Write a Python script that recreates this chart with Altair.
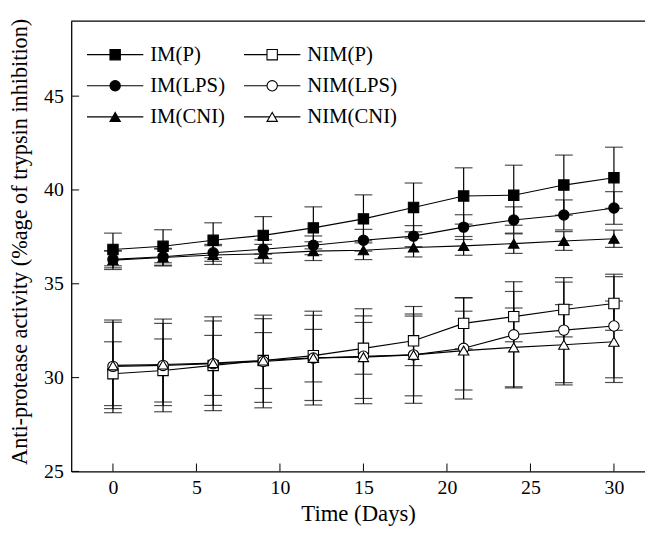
import altair as alt
import pandas as pd

days = [0, 3, 6, 9, 12, 15, 18, 21, 24, 27, 30]
series_names = ["IM(P)", "IM(LPS)", "IM(CNI)", "NIM(P)", "NIM(LPS)", "NIM(CNI)"]
series_shapes = ["square", "circle", "triangle-up", "square", "circle", "triangle-up"]
series_fills = ["black", "black", "black", "white", "white", "white"]

im_p = [36.83, 37.0, 37.32, 37.58, 37.98, 38.46, 39.07, 39.68, 39.72, 40.26, 40.65]
im_lps = [36.3, 36.44, 36.65, 36.84, 37.05, 37.32, 37.54, 38.02, 38.4, 38.67, 39.04]
im_cni = [36.26, 36.4, 36.53, 36.6, 36.74, 36.79, 36.93, 37.02, 37.14, 37.28, 37.4]
nim_p = [30.21, 30.38, 30.65, 30.91, 31.17, 31.56, 31.96, 32.89, 33.25, 33.63, 33.95]
nim_lps = [30.6, 30.65, 30.74, 30.86, 31.04, 31.14, 31.21, 31.56, 32.28, 32.53, 32.75]
nim_cni = [30.65, 30.7, 30.77, 30.91, 31.05, 31.09, 31.21, 31.44, 31.61, 31.75, 31.91]

err_im_p = [0.87, 0.88, 0.93, 1.0, 1.12, 1.28, 1.3, 1.5, 1.6, 1.6, 1.63]
err_im_lps = [0.45, 0.45, 0.45, 0.5, 0.5, 0.58, 0.56, 0.66, 0.7, 0.8, 0.87]
err_im_cni = [0.5, 0.45, 0.5, 0.5, 0.5, 0.5, 0.5, 0.5, 0.52, 0.5, 0.46]
err_nim_p = [1.7, 1.68, 1.6, 1.49, 1.4, 1.38, 1.32, 1.36, 1.34, 1.46, 1.43]
err_nim_lps = [2.47, 2.47, 2.5, 2.47, 2.5, 2.53, 2.58, 2.7, 2.83, 2.8, 2.76]
err_nim_cni = [2.3, 2.19, 2.25, 2.23, 2.27, 2.2, 2.18, 2.1, 2.1, 2.14, 2.17]

x_ticks = [0, 5, 10, 15, 20, 25, 30]
y_ticks = [25, 30, 35, 40, 45]

values = [im_p, im_lps, im_cni, nim_p, nim_lps, nim_cni]
errors = [err_im_p, err_im_lps, err_im_cni, err_nim_p, err_nim_lps, err_nim_cni]

rows = []
for name, vals, errs in zip(series_names, values, errors):
    for d, v, e in zip(days, vals, errs):
        rows.append({"series": name, "day": d, "value": v, "lo": v - e, "hi": v + e})
df = pd.DataFrame(rows)

W, H = 581, 456
FONT = "Liberation Serif"

xs = alt.Scale(domain=[-2.5, 31.86], nice=False, zero=False)
ys = alt.Scale(domain=[25, 49], nice=False, zero=False)
shape_scale = alt.Scale(domain=series_names, range=series_shapes)
fill_scale = alt.Scale(domain=series_names, range=series_fills)

base = alt.Chart(df)

lines = base.mark_line(color="black", strokeWidth=1.1).encode(
    x=alt.X("day:Q", scale=xs,
            axis=alt.Axis(values=x_ticks, title="Time (Days)", ticks=False, tickSize=0,
                          labelPadding=6, titlePadding=6)),
    y=alt.Y("value:Q", scale=ys,
            axis=alt.Axis(values=y_ticks, title="Anti-protease activity (%age of trypsin inhibition)",
                          ticks=False, tickSize=0, labelPadding=8,
                          titleX=-52, titleY=223, titleAngle=-90, titleAlign="center",
                          titleBaseline="middle", titleFontSize=22.5)),
    detail="series:N",
)

bars = base.mark_rule(color="black", strokeWidth=1.2).encode(
    x="day:Q", y="lo:Q", y2="hi:Q"
)
caps_hi = base.mark_tick(color="black", orient="horizontal", size=18, thickness=1.2).encode(
    x="day:Q", y="hi:Q"
)
caps_lo = base.mark_tick(color="black", orient="horizontal", size=18, thickness=1.2).encode(
    x="day:Q", y="lo:Q"
)

points = base.mark_point(stroke="black", strokeWidth=1.1, opacity=1, size=110).encode(
    x="day:Q", y="value:Q",
    shape=alt.Shape("series:N", scale=shape_scale, legend=None),
    fill=alt.Fill("series:N", scale=fill_scale, legend=None),
)

# inward ticks
xt = alt.Chart(pd.DataFrame({"t": x_ticks})).mark_rule(color="black", strokeWidth=1).encode(
    x=alt.X("t:Q", scale=xs), y=alt.value(H), y2=alt.value(H - 8)
)
yt = alt.Chart(pd.DataFrame({"t": y_ticks})).mark_rule(color="black", strokeWidth=1).encode(
    y=alt.Y("t:Q", scale=ys), x=alt.value(0), x2=alt.value(8)
)
top = alt.Chart(pd.DataFrame({"a": [0]})).mark_rule(color="black", strokeWidth=1.3).encode(
    x=alt.value(0), x2=alt.value(W), y=alt.value(0)
)

# legend
leg_col_x = [16, 175]
leg_row_y = [34, 65.5, 97]
leg = []
for i, name in enumerate(series_names):
    c = i // 3
    r = i % 3
    x0 = leg_col_x[c]
    leg.append({"series": name, "x0": x0, "x1": x0 + 57, "xm": x0 + 28.5,
                "xt": x0 + 64, "y": leg_row_y[r]})
ldf = pd.DataFrame(leg)
lbase = alt.Chart(ldf)
leg_lines = lbase.mark_rule(color="black", strokeWidth=1.1).encode(
    x=alt.X("x0:Q", scale=None), x2="x1:Q", y=alt.Y("y:Q", scale=None)
)
leg_pts = lbase.mark_point(stroke="black", strokeWidth=1.1, opacity=1, size=110).encode(
    x=alt.X("xm:Q", scale=None), y=alt.Y("y:Q", scale=None),
    shape=alt.Shape("series:N", scale=shape_scale, legend=None),
    fill=alt.Fill("series:N", scale=fill_scale, legend=None),
)
leg_txt = lbase.mark_text(align="left", baseline="middle", font=FONT, fontSize=21, color="black").encode(
    x=alt.X("xt:Q", scale=None), y=alt.Y("y:Q", scale=None), text="series:N"
)

chart = alt.layer(
    lines, bars, caps_hi, caps_lo, points, xt, yt, top, leg_lines, leg_pts, leg_txt
).properties(
    width=W, height=H,
    autosize=alt.AutoSizeParams(type="none"),
    padding={"left": 64, "top": 10, "right": 0, "bottom": 52},
).configure_view(stroke=None).configure_axis(
    grid=False, domainColor="black", domainWidth=1.3,
    labelFont=FONT, labelFontSize=20, labelColor="black",
    titleFont=FONT, titleFontSize=23, titleFontWeight="normal", titleColor="black",
)

chart.save("out.html", embed_options={"renderer": "svg", "actions": False})
